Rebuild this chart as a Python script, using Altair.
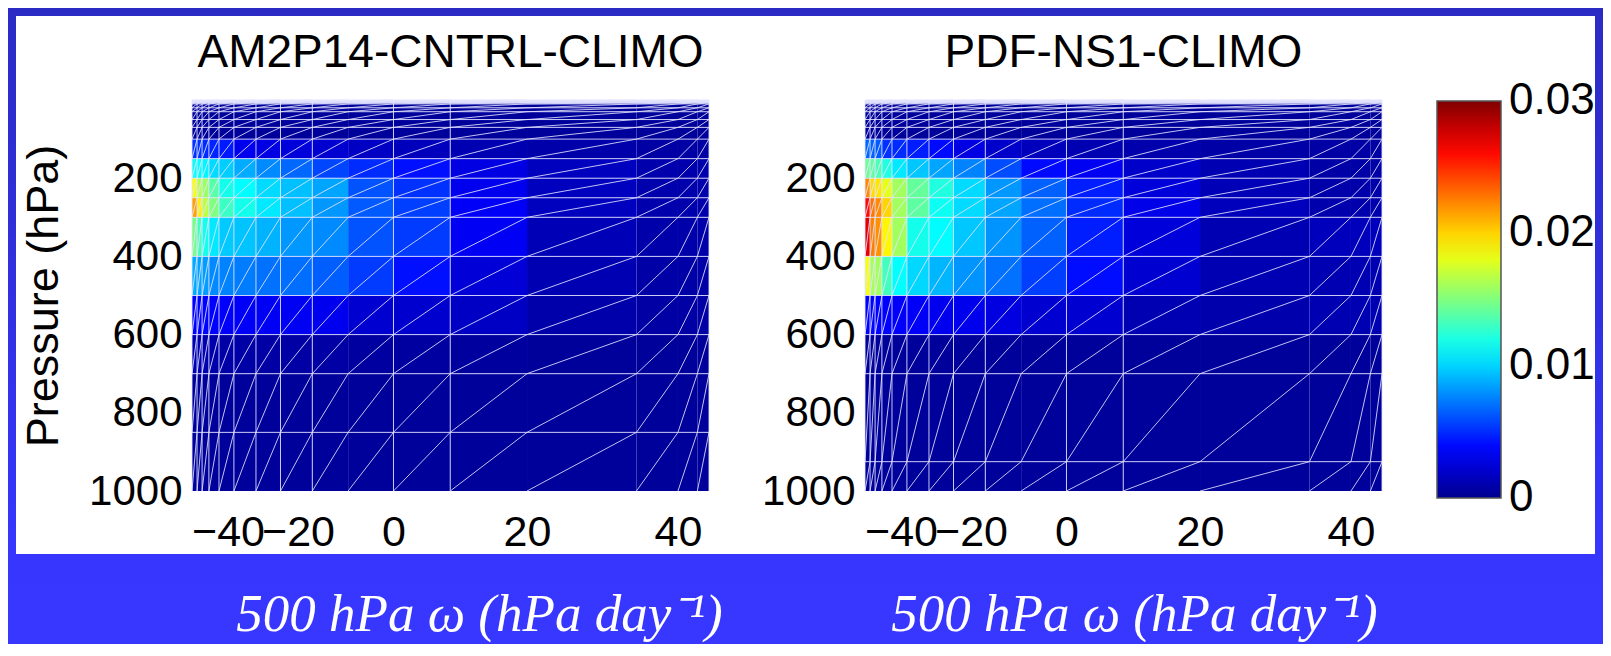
import altair as alt
import pandas as pd

# ---------------- data ----------------
titles = ["AM2P14-CNTRL-CLIMO", "PDF-NS1-CLIMO"]
x_title = "500 hPa ω (hPa day⁻¹)"
y_title = "Pressure (hPa)"

# omega bin edges (hPa/day) of the histogram columns
x_edges = [-50, -48.6, -47.2, -45.3, -42.5, -38.3, -32, -25, -17, -9.5, 0, 8.5, 20, 34.5, 40, 42.5, 44]
# column edges that show a white vertical mesh line
x_vlines = [-50, -48.6, -47.2, -45.3, -42.5, -38.3, -32, -25, -17, 0, 8.5, 44]
x_ticks = [-40, -20, 0, 20, 40]
# the omega axis is non-linear: knots and their fraction along the axis
x_knots = [-50, -40, -20, 0, 20, 40, 44]
x_knot_frac = [0, 0.0696, 0.205, 0.3897, 0.648, 0.940, 1.0]

y_ticks = [200, 400, 600, 800, 1000]
p_edges_left = [0, 1, 2, 3, 5, 7, 10, 20, 30, 50, 70, 100, 150, 200, 250, 300, 400, 500, 600, 700, 850, 1000]
p_edges_right = [0, 1, 2, 3, 5, 7, 10, 20, 30, 50, 70, 100, 150, 200, 250, 300, 400, 500, 600, 700, 925, 1000]

dark_value = 0.0004  # all the navy cells

# PDF values per pressure layer (key = top of layer), one value per omega column
left_rows = {
    100: [0.0052, 0.0052, 0.005, 0.0048, 0.0045, 0.0032, 0.0028, 0.0025, 0.0022, 0.0018, 0.0015, 0.0012, 0.0009, 0.0007, 0.0007, 0.0007],
    150: [0.0115, 0.0113, 0.011, 0.0102, 0.0098, 0.0088, 0.0078, 0.0068, 0.0058, 0.005, 0.0042, 0.0028, 0.0016, 0.001, 0.001, 0.001],
    200: [0.0185, 0.0165, 0.0158, 0.0138, 0.0118, 0.0112, 0.0102, 0.0094, 0.0086, 0.0062, 0.0052, 0.0032, 0.0016, 0.001, 0.001, 0.001],
    250: [0.0215, 0.0192, 0.0168, 0.015, 0.013, 0.0118, 0.0106, 0.0094, 0.0082, 0.0064, 0.0056, 0.0035, 0.0016, 0.001, 0.001, 0.001],
    300: [0.0148, 0.0132, 0.0118, 0.0106, 0.0097, 0.0095, 0.009, 0.0082, 0.0078, 0.0062, 0.0055, 0.0034, 0.0013, 0.0009, 0.0009, 0.0009],
    400: [0.0088, 0.0086, 0.0084, 0.0078, 0.0076, 0.0074, 0.0071, 0.007, 0.0065, 0.0055, 0.0042, 0.0024, 0.0012, 0.0008, 0.0008, 0.0008],
    500: [0.0038, 0.0038, 0.0038, 0.0037, 0.0036, 0.0035, 0.0034, 0.0033, 0.0032, 0.0022, 0.0021, 0.0018, 0.0009, 0.0007, 0.0007, 0.0007],
    600: [0.0012, 0.0011, 0.001, 0.0009, 0.0008, 0.0008, 0.0007, 0.0007, 0.0007, 0.0006, 0.0006, 0.0005, 0.0004, 0.0004, 0.0004, 0.0004],
}
right_rows = {
    100: [0.0068, 0.0066, 0.0064, 0.0052, 0.005, 0.0046, 0.004, 0.0028, 0.002, 0.0015, 0.0012, 0.001, 0.0008, 0.0007, 0.0007, 0.0007],
    150: [0.0145, 0.014, 0.0135, 0.0122, 0.0106, 0.0096, 0.0086, 0.0076, 0.006, 0.004, 0.0033, 0.002, 0.0012, 0.0008, 0.0008, 0.0008],
    200: [0.0222, 0.0198, 0.0195, 0.018, 0.016, 0.0142, 0.0122, 0.0102, 0.0082, 0.0066, 0.0046, 0.0025, 0.0013, 0.0009, 0.0009, 0.0009],
    250: [0.026, 0.0228, 0.0222, 0.02, 0.016, 0.014, 0.0116, 0.0102, 0.0086, 0.007, 0.005, 0.003, 0.0015, 0.001, 0.001, 0.001],
    300: [0.027, 0.0225, 0.022, 0.019, 0.016, 0.0118, 0.0112, 0.0096, 0.0081, 0.0066, 0.0046, 0.0025, 0.0012, 0.0015, 0.0015, 0.0015],
    400: [0.0185, 0.0162, 0.016, 0.0132, 0.0113, 0.0101, 0.0091, 0.0081, 0.0071, 0.0056, 0.0041, 0.0022, 0.0012, 0.0012, 0.0012, 0.0012],
    500: [0.0038, 0.0038, 0.0038, 0.0037, 0.0036, 0.0035, 0.0032, 0.0031, 0.0027, 0.0022, 0.0022, 0.0012, 0.001, 0.0012, 0.0012, 0.0012],
}

# colour-bar tick values (ends nudged inside so their labels centre on the bar ends)
legend_values = [0.00001, 0.01, 0.02, 0.02999]
jet_stops = [0, 0.00375, 0.01125, 0.01875, 0.02625, 0.03]
jet_colors = ["#00008f", "#0000ff", "#00ffff", "#ffff00", "#ff0000", "#800000"]

# ---------------- layout / style ----------------
W, H = 517, 391
FONT = "Liberation Sans"
MESH = "#e4e4ff"


def cells_df(p_edges, rows):
    recs = []
    for j in range(len(p_edges) - 1):
        vals = rows.get(p_edges[j], [dark_value] * (len(x_edges) - 1))
        for i in range(len(x_edges) - 1):
            recs.append(dict(om=x_edges[i], om2=x_edges[i + 1], p=p_edges[j], p2=p_edges[j + 1], v=vals[i]))
    return pd.DataFrame(recs)


def hline_df(p_edges):
    return pd.DataFrame(dict(p=p_edges[:-1], om=[x_edges[0]] * (len(p_edges) - 1),
                             om2=[x_edges[-1]] * (len(p_edges) - 1)))


def vline_df(p_edges):
    return pd.DataFrame(dict(om=x_vlines, p=[p_edges[0]] * len(x_vlines), p2=[p_edges[-1]] * len(x_vlines)))


def diag_df(p_edges):
    pb = p_edges[::-1]
    nx, ny = len(x_edges) - 1, len(pb) - 1
    starts = [(0, j) for j in range(ny)] + [(i, 0) for i in range(1, nx)]
    recs = []
    for lid, (i0, j0) in enumerate(starts):
        k = 0
        while i0 + k <= nx and j0 + k <= ny:
            recs.append(dict(om=x_edges[i0 + k], p=pb[j0 + k], line=lid, step=k))
            k += 1
    return pd.DataFrame(recs)


xs = alt.Scale(domain=x_knots, range=[f * W for f in x_knot_frac], nice=False, zero=False)
ys = alt.Scale(domain=[0, 1000], reverse=True, nice=False, zero=False)
cs = alt.Scale(domain=jet_stops, range=jet_colors, interpolate="rgb", clamp=True)


def make_panel(idx, p_edges, rows, title_x, left):
    xaxis = alt.Axis(values=x_ticks, labelFontSize=43, labelFont=FONT, labelColor="black",
                     labelPadding=20, labelOverlap=False, labelFlush=False,
                     ticks=False, domain=False, grid=False, zindex=1,
                     title=x_title, titleFont="Liberation Serif", titleFontStyle="italic",
                     titleFontWeight="normal", titleFontSize=53, titleColor="white",
                     titleX=title_x, titleY=139, titleAlign="center", titleBaseline="alphabetic")
    if left:
        yaxis = alt.Axis(values=y_ticks, format="d", labelFontSize=42, labelFont=FONT, labelColor="black",
                         labelPadding=10, tickSize=0, ticks=False, domain=False, grid=False, zindex=1,
                         title=y_title, titleFont=FONT, titleFontSize=45, titleFontWeight="normal",
                         titleColor="black", titlePadding=22)
    else:
        yaxis = alt.Axis(values=y_ticks, format="d", labelFontSize=42, labelFont=FONT, labelColor="black",
                         labelPadding=10, tickSize=0, ticks=False, domain=False, grid=False, zindex=1,
                         title=None)

    X = alt.X("om:Q", scale=xs, axis=xaxis)
    Y = alt.Y("p:Q", scale=ys, axis=yaxis)

    cells = alt.Chart(cells_df(p_edges, rows)).mark_rect(strokeWidth=0).encode(
        x=X, x2="om2", y=Y, y2="p2",
        color=alt.Color("v:Q", scale=cs, legend=alt.Legend(
            orient="none", legendX=1245, legendY=1, direction="vertical",
            gradientLength=397, gradientThickness=64, gradientStrokeColor="#555555",
            gradientStrokeWidth=1.5, labelFontSize=44, labelFont=FONT, labelColor="black",
            labelOffset=8, labelOverlap=False, values=legend_values,
            labelExpr="datum.value < 0.005 ? '0' : format(datum.value, '.2f')",
            title=None, padding=0, zindex=1)))
    hl = alt.Chart(hline_df(p_edges)).mark_rule(color=MESH, strokeWidth=1, opacity=0.85).encode(
        x=X, x2="om2", y=Y)
    vl = alt.Chart(vline_df(p_edges)).mark_rule(color=MESH, strokeWidth=1, opacity=0.85).encode(
        x=X, y=Y, y2="p2")
    dg = alt.Chart(diag_df(p_edges)).mark_line(color=MESH, strokeWidth=1, opacity=0.85).encode(
        x=X, y=Y, detail="line:N", order="step:Q")
    ttl = alt.Chart(pd.DataFrame({"t": [titles[idx]]})).mark_text(
        font=FONT, fontSize=46, color="black", align="center", baseline="alphabetic").encode(
        text="t:N", x=alt.value(W / 2), y=alt.value(-33))

    layers = [cells, hl, vl, dg, ttl]
    if left:
        one = pd.DataFrame({"k": [0]})
        bg_fill = alt.LinearGradient(gradient="linear", x1=0, x2=0, y1=0, y2=1, stops=[
            alt.GradientStop(color="#2b2bc4", offset=0),
            alt.GradientStop(color="#3131e4", offset=0.5),
            alt.GradientStop(color="#3636ff", offset=0.85),
            alt.GradientStop(color="#3737ff", offset=1)])
        bg = alt.Chart(one).mark_rect(fill=bg_fill, strokeWidth=0).encode(
            x=alt.value(-184), x2=alt.value(1411), y=alt.value(-92), y2=alt.value(544))
        white = alt.Chart(one).mark_rect(fill="white", strokeWidth=0).encode(
            x=alt.value(-176), x2=alt.value(1403), y=alt.value(-84), y2=alt.value(454))
        layers = [bg, white] + layers

    return alt.layer(*layers).properties(width=W, height=H)


left_panel = make_panel(0, p_edges_left, left_rows, 287, True)
right_panel = make_panel(1, p_edges_right, right_rows, 269, False)

chart = alt.hconcat(left_panel, right_panel, spacing=156, bounds="flush").resolve_scale(
    color="shared").properties(padding=0, background="#3434f0").configure_view(strokeWidth=0)

chart.save("out.html", embed_options={"renderer": "svg", "actions": False})
